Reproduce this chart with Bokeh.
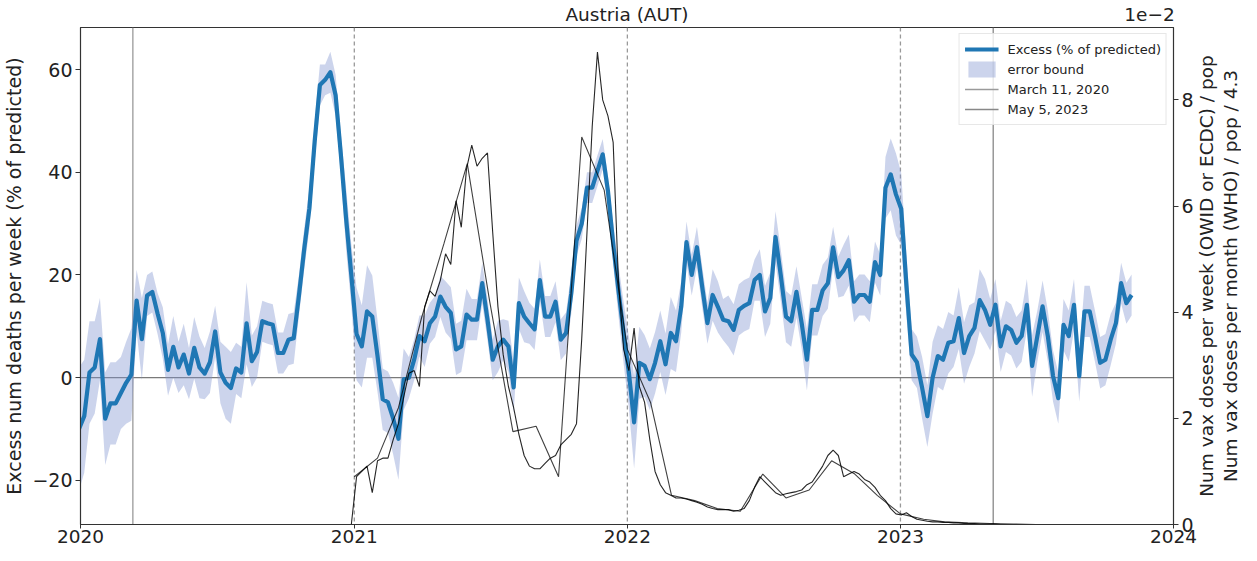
import numpy as np
import pandas as pd
from datetime import datetime
from bokeh.plotting import figure
from bokeh.models import (Range1d, LinearAxis, FixedTicker, Span, Label,
                          Legend, LegendItem)
from bokeh.embed import file_html
from bokeh.resources import INLINE

# ---------------- data ----------------
# weekly excess deaths (% of predicted), first week 2019-12-30
excess = [
    -10, -7.5, 1, 2, 7.5, -8, -5, -5, -3, -1, 0.6,
    15, 7.5, 16, 16.7, 12.5, 8.7, 1.5, 6, 2, 4.5,
    0.8, 5.8, 2, 0.8, 3, 9, 1, -1, -2, 1.8,
    1, 10.6, 3.2, 5, 11, 10.6, 10.3, 4.8, 4.8, 7.4, 7.7,
    16, 25, 33, 46, 57, 58, 59.5, 55, 43.5, 31, 20,
    8.5, 6.1, 12.9, 11.9, 4.2, -4.2, -4.8, -8, -11.9, -0.3,
    0, 3.5, 8.1, 7.1, 10.6, 11.9, 15.8, 13.8, 12.6, 5.5,
    6.1, 12.3, 11.3, 11.3, 18.4, 11.3, 3.5, 6.1, 7.4, 6.1,
    -1.9, 14.5, 11.9, 10.6, 9.4, 19, 11.9, 11.9, 14.8, 7.4, 8.7,
    16.4, 26.7, 30, 37, 37, 40.3, 43.5, 36.4, 26.1, 17.1, 8.7,
    1, -8.7, 2.9, 2.3, -0.3, 2.9, 7.1, 2.6, 8.7, 7.1, 13.8,
    26.4, 20, 25.4, 17.7, 10.6, 16.1, 13.8, 11.3, 11, 9.3, 13.2,
    14, 14.5, 19, 20, 12.9, 15.5, 27.4, 20, 11.9, 11, 16.7,
    10.6, 3.5, 13.2, 13.2, 17, 18.4, 25.4, 19.6, 20.9, 22.9, 14.8,
    16.1, 16.1, 14.8, 22.5, 20, 37, 39.6, 35.7, 32.9, 18, 4.5,
    3, -2, -7.5, 0, 4.2, 3.5, 6.8, 7.1, 11.6, 4.8, 8.1,
    9.7, 15.1, 13.2, 10.3, 14.2, 6.1, 10, 9.3, 6.8, 8.1, 14.2,
    2.3, 8.1, 13.9, 8.1, 0.3, -4, 10.3, 8.1, 14.2, 0.3, 12.9,
    12.9, 8.1, 2.9, 3.5, 7.4, 10.6, 18.4, 14.5, 16.1,
]
# half-width of the error bound (percentage points)
err = [
    12, 11, 10, 9, 8, 9, 8, 8, 7, 8, 9,
    6, 8, 4, 4, 4, 5, 5, 6, 5, 6,
    5, 6, 6, 5, 6, 5, 6, 7, 7, 5,
    5, 8, 5, 5, 4, 4, 4, 4, 4, 5, 5,
    4, 4, 4, 4, 4, 3, 4, 4, 4, 6, 6,
    9, 8, 9, 8, 7, 6, 6, 7, 8, 6,
    4, 4, 4, 5, 4, 4, 4, 5, 5, 5,
    5, 5, 4, 4, 4, 4, 4, 5, 4, 5,
    5, 5, 5, 4, 4, 4, 4, 4, 4, 4, 4,
    4, 3, 3, 3, 3, 3, 3, 3, 4, 5, 6,
    7, 9, 7, 6, 6, 6, 6, 6, 7, 6, 5,
    4, 4, 4, 4, 4, 5, 5, 4, 5, 5, 5,
    5, 5, 4, 5, 5, 5, 5, 5, 5, 5, 5,
    5, 6, 5, 5, 5, 5, 4, 4, 5, 5, 4,
    4, 4, 4, 4, 4, 6, 7, 8, 7, 6, 5,
    5, 6, 6, 7, 6, 6, 6, 5, 6, 6, 6,
    5, 6, 6, 5, 5, 5, 5, 5, 5, 5, 5,
    6, 5, 5, 5, 5, 5, 5, 5, 5, 5, 5,
    5, 5, 5, 5, 5, 4, 4, 4, 4,
]
# weekly vaccine doses / pop, in units of 1e-2, first week 2020-12-28
vax_weekly = [
    0, 0.9, 1.0, 1.1, 0.6, 1.2, 1.25, 1.25, 1.6, 1.9,
    2.4, 2.85, 2.9, 2.6, 4.1, 4.4, 4.3, 4.6, 5.1, 4.9,
    6.1, 5.6, 6.7, 7.15, 6.75, 6.9, 7.0, 5.5, 4.1, 3.2,
    2.6, 2.2, 1.7, 1.3, 1.1, 1.05, 1.05, 1.15, 1.25, 1.3,
    1.5, 1.6, 1.7, 1.9, 3.5, 5.5, 7.5, 8.9, 8.0, 7.7,
    7.2, 4.6, 3.3, 2.9, 3.7, 2.6, 2.3, 1.6, 1.0, 0.75,
    0.6, 0.55, 0.5, 0.5, 0.48, 0.45, 0.42, 0.38, 0.33, 0.3,
    0.28, 0.28, 0.28, 0.25, 0.27, 0.3, 0.45, 0.7, 0.9, 0.8,
    0.7, 0.6, 0.55, 0.58, 0.6, 0.62, 0.65, 0.75, 0.8, 0.95,
    1.1, 1.3, 1.4, 1.3, 0.9, 0.95, 1.0, 0.95, 0.85, 0.8,
    0.7, 0.55, 0.45, 0.3, 0.2, 0.18, 0.22, 0.15, 0.1, 0.08,
    0.06, 0.05, 0.05, 0.04, 0.04, 0.03, 0.03, 0.02, 0.02, 0.02,
    0.01, 0.01, 0.01, 0.01, 0.0, 0.0, 0.0, 0.0, 0.0, 0.0, 0.0, 0.0,
]
# monthly vaccine doses / pop / 4.3, in units of 1e-2, first month 2021-01
vax_monthly = [
    0.9, 1.25, 2.2, 3.9, 5.3, 6.8, 4.2, 1.75, 1.85, 0.9, 7.3, 6.3,
    3.3, 2.3, 0.55, 0.45, 0.3, 0.25, 0.95, 0.5, 0.65, 1.2, 0.95, 0.55,
    0.2, 0.1, 0.05, 0.03, 0.02, 0.01, 0.0,
]
year_ticks = ["2020", "2021", "2022", "2023", "2024"]
left_ticks = [-20, 0, 20, 40, 60]
right_ticks = [0, 2, 4, 6, 8]
title_text = "Austria (AUT)"
offset_text = "1e\u22122"
right_label = ("Num vax doses per week (OWID or ECDC) / pop\n"
               "Num vax doses per month (WHO) / pop / 4.3")
left_label = "Excess num deaths per week (% of predicted)"
who_declared = datetime(2020, 3, 11)
who_ended = datetime(2023, 5, 5)

weeks = pd.date_range("2019-12-30", periods=len(excess), freq="7D")
vax_weeks = pd.date_range("2020-12-28", periods=len(vax_weekly), freq="7D")
months = pd.date_range("2021-01-01", periods=len(vax_monthly), freq="MS")
year_dates = pd.to_datetime([f"{y}-01-01" for y in year_ticks])
year_ms = [int(d.value // 10**6) for d in year_dates]

exc = np.array(excess, dtype=float)
er = np.array(err, dtype=float)
lower = exc - er
upper = exc + er

# ---------------- figure ----------------
FONT = "DejaVu Sans"
TXT = "#222222"
SPINE = "#333333"
Y0, Y1 = -28.6, 68.2

p = figure(width=1241, height=545, x_axis_type="datetime",
           x_range=Range1d(year_dates[0], year_dates[-1]), y_range=Range1d(Y0, Y1),
           output_backend="svg", toolbar_location=None,
           min_border_left=75, min_border_right=67,
           min_border_top=24, min_border_bottom=20)
p.extra_y_ranges = {"vax": Range1d(0, 9.364)}
p.extra_x_ranges = {"frac": Range1d(0, 1000)}
p.xgrid.visible = False
p.ygrid.visible = False
p.outline_line_color = SPINE
p.outline_line_width = 1.2


def style_axis(ax, size="19px"):
    ax.major_label_text_font = FONT
    ax.major_label_text_font_size = size
    ax.major_label_text_color = TXT
    ax.major_tick_out = 5
    ax.major_tick_in = 0
    ax.minor_tick_out = 0
    ax.minor_tick_in = 0
    ax.axis_line_color = SPINE
    ax.major_tick_line_color = SPINE
    ax.axis_label_text_font = FONT
    ax.axis_label_text_font_size = "19px"
    ax.axis_label_text_font_style = "normal"
    ax.axis_label_text_color = TXT


# bottom axis: years
xa = p.xaxis[0]
style_axis(xa, "18.5px")
xa.ticker = FixedTicker(ticks=year_ms)
xa.major_label_overrides = {ms: lab for ms, lab in zip(year_ms, year_ticks)}
xa.major_label_standoff = 1
xa.major_tick_out = 4

# left axis
ya = p.yaxis[0]
style_axis(ya)
ya.ticker = FixedTicker(ticks=left_ticks)
ya.major_label_overrides = {t: str(t).replace("-", "\u2212") for t in left_ticks}
ya.major_label_standoff = 3
ya.axis_label = left_label
ya.axis_label_standoff = 4

# right axis (values in units of 1e-2)
ra = LinearAxis(y_range_name="vax", ticker=FixedTicker(ticks=right_ticks))
style_axis(ra)
ra.major_label_standoff = 3
p.add_layout(ra, "right")

# right axis label, reading bottom to top as in the reference
p.add_layout(Label(x=year_dates[-1], y=(Y0 + Y1) / 2, text=right_label,
                   angle=np.pi / 2, text_align="center", text_baseline="middle",
                   x_offset=45, text_font=FONT, text_font_size="18.5px",
                   text_color=TXT, text_line_height=1.12), "right")

# top row: title (centre) and the 1e-2 multiplier of the right axis (right)
ta = LinearAxis(x_range_name="frac", ticker=FixedTicker(ticks=[500, 978]))
ta.major_label_overrides = {500: title_text, 978: offset_text}
ta.major_label_text_font = FONT
ta.major_label_text_font_size = "18.5px"
ta.major_label_text_color = TXT
ta.major_label_standoff = 3
ta.major_tick_out = 0
ta.major_tick_in = 0
ta.minor_tick_out = 0
ta.minor_tick_in = 0
ta.axis_line_color = None
p.add_layout(ta, "above")

# reference lines
for ms in year_ms[1:-1]:
    p.add_layout(Span(location=ms, dimension="height",
                      line_color="#999999", line_width=1.3, line_dash="4 3",
                      level="underlay"))
p.add_layout(Span(location=0, dimension="width", line_color="#7a7a7a",
                  line_width=1.3, level="underlay"))

r_mar = p.line(x=[who_declared, who_declared], y=[Y0, Y1],
               line_color="#9a9a9a", line_width=1.3)
r_may = p.line(x=[who_ended, who_ended], y=[Y0, Y1],
               line_color="#888888", line_width=1.3)

# band and excess line
r_band = p.varea(x=weeks, y1=lower, y2=upper,
                 fill_color="#7f93cf", fill_alpha=0.4)
r_exc = p.line(x=weeks, y=exc, line_color="#1f77b4", line_width=4.2,
               line_join="round")

# vaccination lines
p.line(x=vax_weeks, y=vax_weekly, y_range_name="vax",
       line_color="black", line_width=1.1, line_alpha=0.85)
p.line(x=months, y=vax_monthly, y_range_name="vax",
       line_color="black", line_width=1.1, line_alpha=0.75)

# legend
legend = Legend(items=[
    LegendItem(label="Excess (% of predicted)", renderers=[r_exc]),
    LegendItem(label="error bound", renderers=[r_band]),
    LegendItem(label="March 11, 2020", renderers=[r_mar]),
    LegendItem(label="May 5, 2023", renderers=[r_may]),
])
legend.location = "top_right"
legend.margin = 6
legend.padding = 5
legend.spacing = 0
legend.label_height = 20
legend.glyph_height = 20
legend.glyph_width = 34
legend.label_standoff = 9
legend.label_text_font = FONT
legend.label_text_font_size = "13px"
legend.label_text_color = TXT
legend.border_line_color = "#d0d0d0"
legend.background_fill_alpha = 0.8
p.add_layout(legend)

open("out.html", "w").write(file_html(p, INLINE))
